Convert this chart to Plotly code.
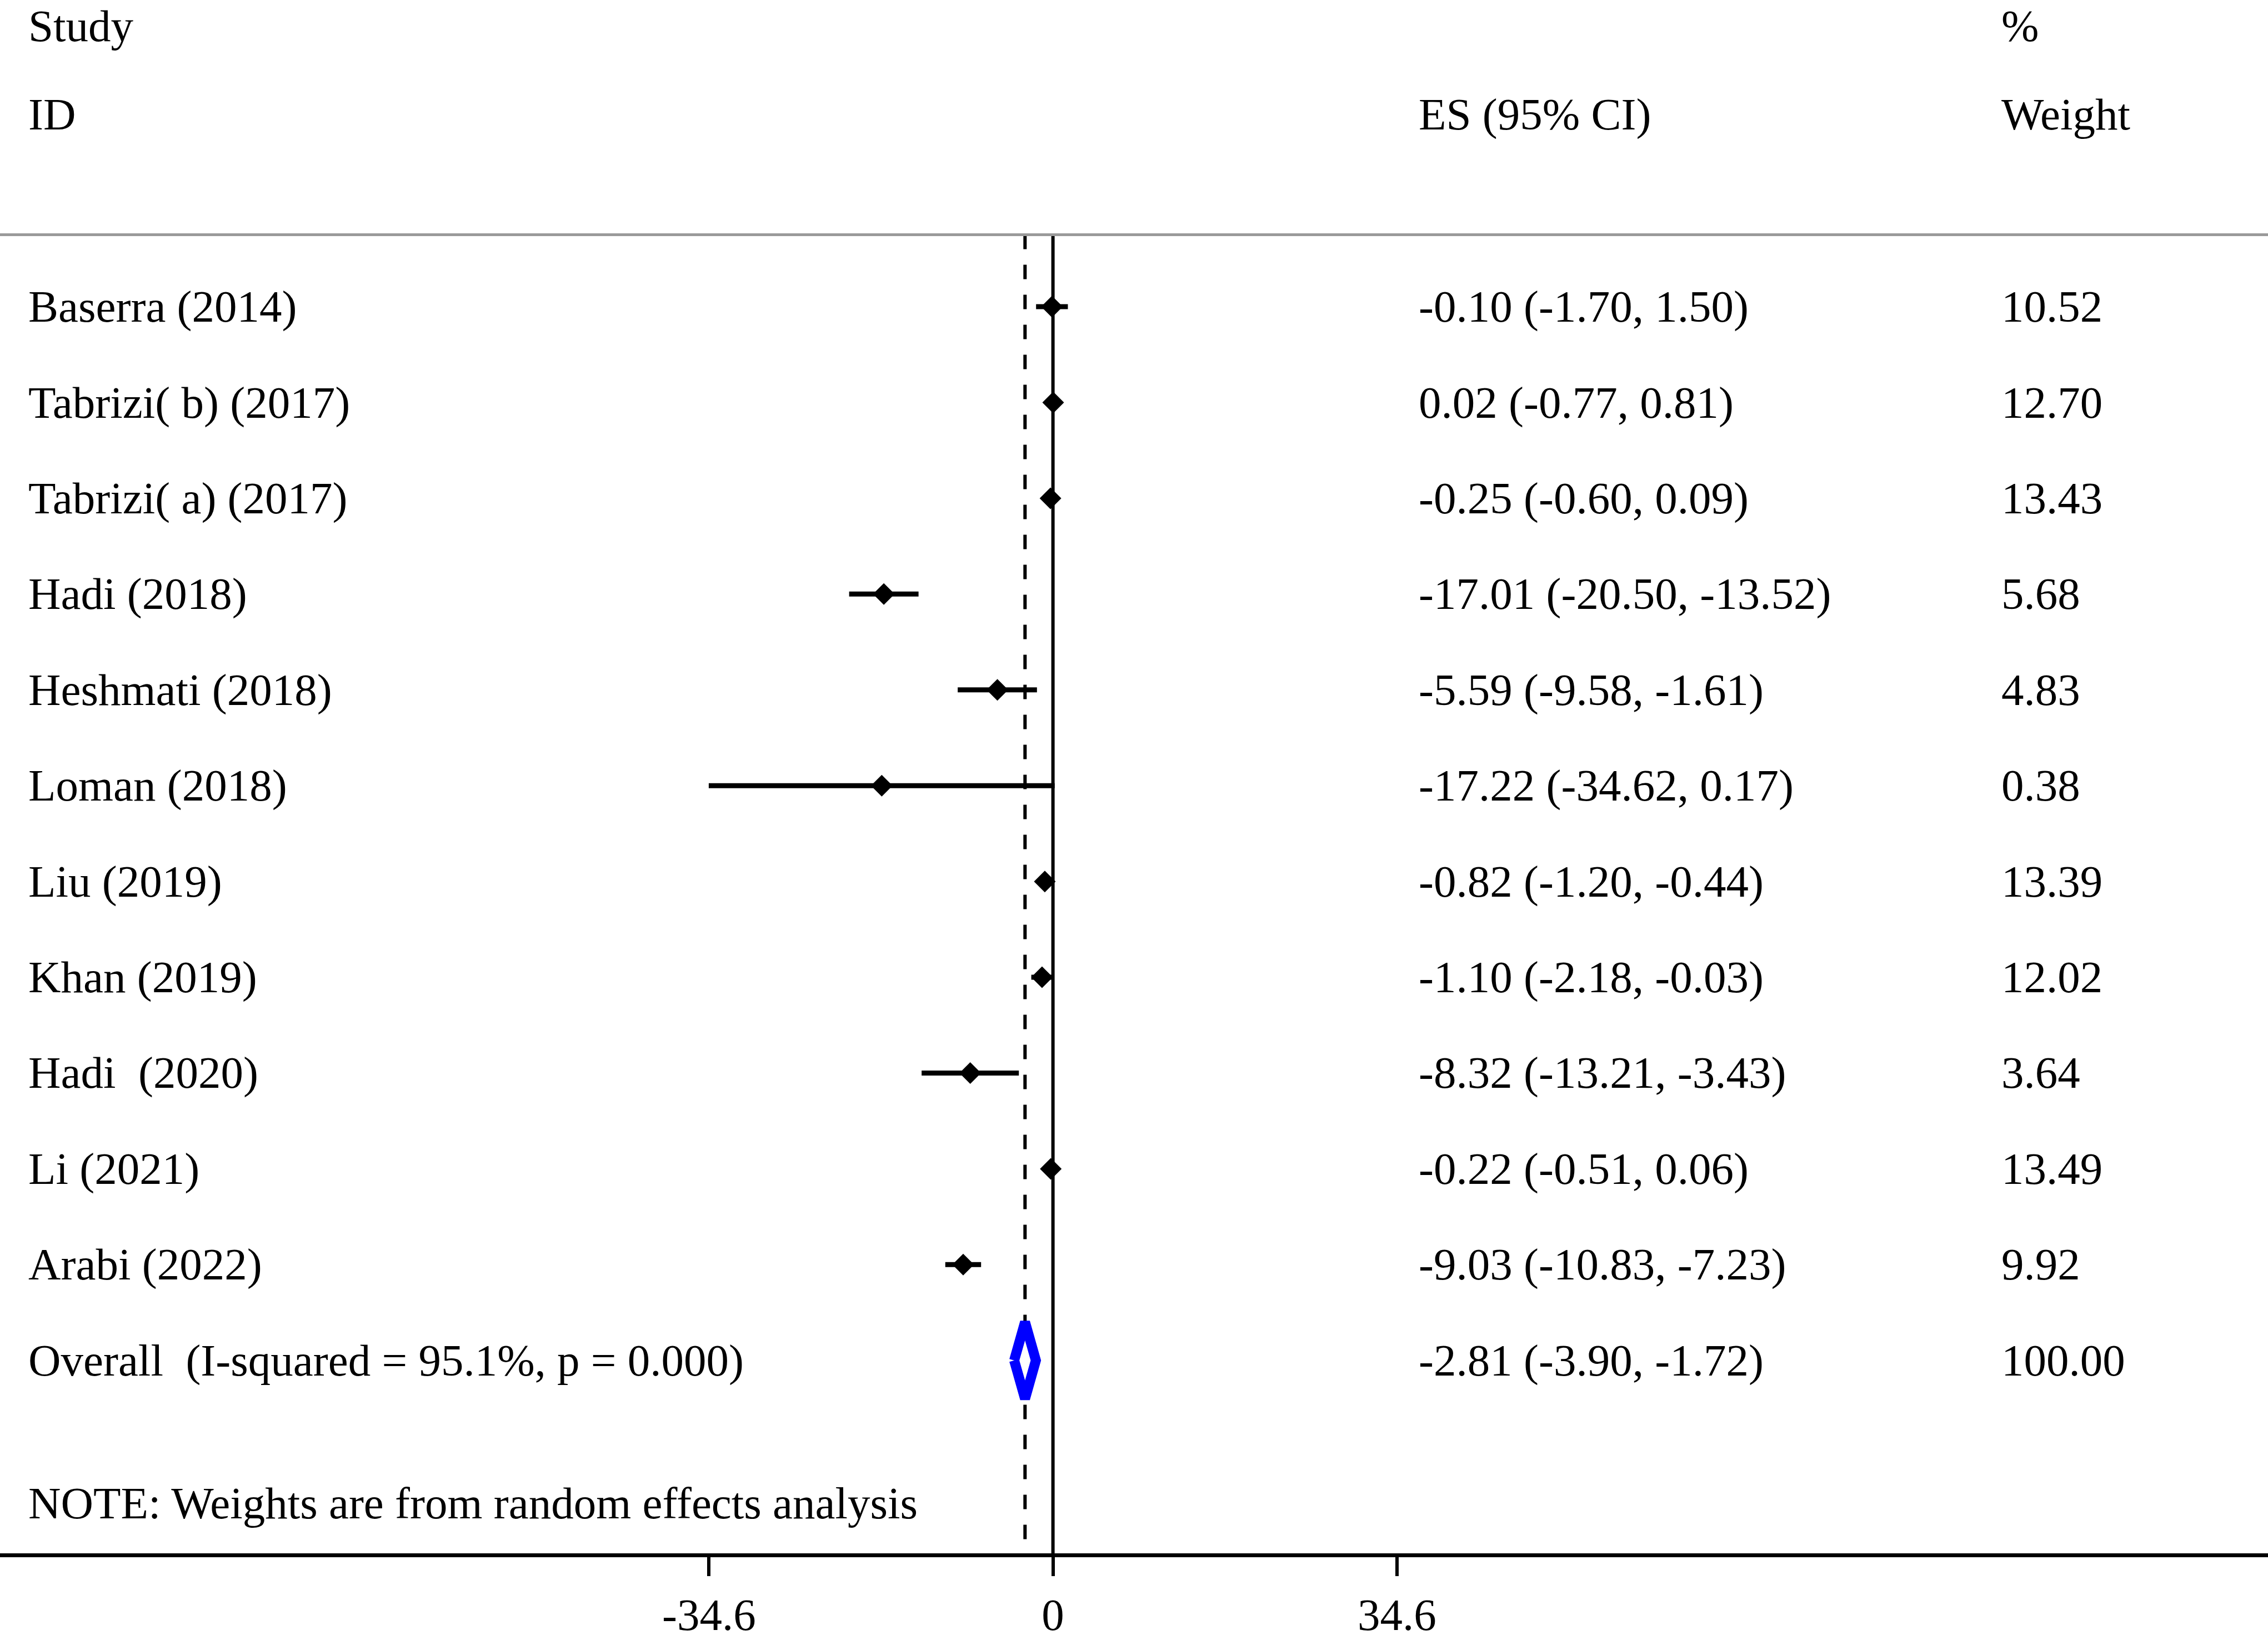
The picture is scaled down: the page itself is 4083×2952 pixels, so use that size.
import plotly.graph_objects as go

# ---------------- data ----------------
studies = ["Baserra (2014)", "Tabrizi( b) (2017)", "Tabrizi( a) (2017)", "Hadi (2018)",
           "Heshmati (2018)", "Loman (2018)", "Liu (2019)", "Khan (2019)",
           "Hadi\u00a0 (2020)", "Li (2021)", "Arabi (2022)"]
es = [-0.10, 0.02, -0.25, -17.01, -5.59, -17.22, -0.82, -1.10, -8.32, -0.22, -9.03]
ci_lo = [-1.70, -0.77, -0.60, -20.50, -9.58, -34.62, -1.20, -2.18, -13.21, -0.51, -10.83]
ci_hi = [1.50, 0.81, 0.09, -13.52, -1.61, 0.17, -0.44, -0.03, -3.43, 0.06, -7.23]
weights = ["10.52", "12.70", "13.43", "5.68", "4.83", "0.38", "13.39", "12.02", "3.64", "13.49", "9.92"]

overall_label = "Overall\u00a0 (I-squared = 95.1%, p = 0.000)"
overall_es = -2.81
overall_lo = -3.90
overall_hi = -1.72
overall_weight = "100.00"

tick_vals = [-34.6, 0, 34.6]
tick_text = ["-34.6", "0", "34.6"]
note = "NOTE: Weights are from random effects analysis"

# ---------------- layout helpers ----------------
W, H = 4083, 2952
FONT = "Liberation Serif, Times New Roman, serif"
FS = 81
rows = list(range(1, len(studies) + 1))
overall_row = len(studies) + 1
y_top_line = 0.248
y_note = 13.49
X_RANGE = [-105.9, 122.2]
Y_RANGE = [14.014, -2.202]

fig = go.Figure()

# CI lines + point estimates
fig.add_trace(go.Scatter(
    x=es, y=rows, mode="markers",
    marker=dict(symbol="diamond", size=30, color="black"),
    error_x=dict(type="data", symmetric=False,
                 array=[h - e for h, e in zip(ci_hi, es)],
                 arrayminus=[e - l for e, l in zip(es, ci_lo)],
                 color="black", thickness=9, width=0),
    showlegend=False, hoverinfo="skip"))

# zero line
fig.add_trace(go.Scatter(x=[0, 0], y=[y_top_line, Y_RANGE[0]], mode="lines",
                         line=dict(color="black", width=6), showlegend=False, hoverinfo="skip"))
# overall dashed line
fig.add_trace(go.Scatter(x=[overall_es, overall_es], y=[y_top_line, Y_RANGE[0]], mode="lines",
                         line=dict(color="black", width=6, dash="26px,28px"),
                         showlegend=False, hoverinfo="skip"))

# overall diamond
hh = 0.40
fig.add_trace(go.Scatter(
    x=[overall_lo, overall_es, overall_hi, overall_es, overall_lo],
    y=[overall_row, overall_row - hh, overall_row, overall_row + hh, overall_row],
    mode="lines", fill="toself", fillcolor="white",
    line=dict(color="#0000ff", width=18), showlegend=False, hoverinfo="skip"))

# top separator line
fig.add_shape(type="line", xref="paper", yref="y", x0=0, x1=1, y0=y_top_line, y1=y_top_line,
              line=dict(color="#999999", width=5))

# text columns
X_ID, X_ES, X_W = 49 / W, 2552 / W, 3601 / W
ann = []

def txt(x, y, s, yref="y", yanchor="middle"):
    ann.append(dict(x=x, y=y, xref="paper", yref=yref, text=s, showarrow=False,
                    xanchor="left", yanchor=yanchor,
                    font=dict(family=FONT, size=FS, color="black")))

txt(X_ID, 1.0, "Study", yref="paper", yanchor="top")
txt(X_ID, -1.01, "ID")
txt(X_ES, -1.01, "ES (95% CI)")
txt(X_W, 1.0, "%", yref="paper", yanchor="top")
txt(X_W, -1.01, "Weight")
for r, s, e, lo, hi, w in zip(rows, studies, es, ci_lo, ci_hi, weights):
    txt(X_ID, r, s)
    txt(X_ES, r, f"{e:.2f} ({lo:.2f}, {hi:.2f})")
    txt(X_W, r, w)
txt(X_ID, overall_row, overall_label)
txt(X_ES, overall_row, f"{overall_es:.2f} ({overall_lo:.2f}, {overall_hi:.2f})")
txt(X_W, overall_row, overall_weight)
txt(X_ID, y_note, note)

fig.update_layout(
    width=W, height=H,
    margin=dict(l=0, r=0, t=0, b=132),
    paper_bgcolor="white", plot_bgcolor="white",
    annotations=ann,
    xaxis=dict(range=X_RANGE, showgrid=False, zeroline=False,
               showline=True, linecolor="black", linewidth=7,
               ticks="outside", ticklen=34, tickwidth=6, tickcolor="black",
               tickvals=tick_vals, ticktext=tick_text,
               tickfont=dict(family=FONT, size=FS, color="black")),
    yaxis=dict(range=Y_RANGE, visible=False, showgrid=False, zeroline=False),
)

fig.write_html("out.html", config={"displayModeBar": False},
               post_script="document.body.style.margin='0';document.body.style.overflow='hidden';")
